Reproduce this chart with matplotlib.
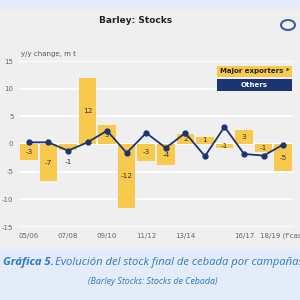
import matplotlib.pyplot as plt
from matplotlib.patches import Rectangle, Ellipse

# data
seasons = ["05/06", "06/07", "07/08", "08/09", "09/10", "10/11", "11/12",
           "12/13", "13/14", "14/15", "15/16", "16/17", "17/18", "18/19 (f'cast)"]
tick_labels = ["05/06", "", "07/08", "", "09/10", "", "11/12",
               "", "13/14", "", "", "16/17", "", "18/19 (f'cast)"]
major_exporters = [-2.9, -6.7, -1.0, 12.0, 3.4, -11.6, -3.0, -3.8, 1.8, 1.3, -0.8, 2.5, -1.4, -4.9]
bar_labels = ["-3", "-7", "-1", "12", "3", "-12", "-3", "-4", "2", "1", "-1", "3", "-1", "-5"]
others = [0.3, 0.3, -1.2, 0.3, 2.4, -1.6, 2.0, -0.7, 2.0, -2.2, 3.1, -1.8, -2.1, -0.1]
y_ticks = [-15, -10, -5, 0, 5, 10, 15]

YELLOW = "#f9c94e"
NAVY = "#1c3572"
BLUE_TXT = "#2a7cc7"
W, H = 300, 300

fig = plt.figure(figsize=(3, 3), dpi=100)
fig.patch.set_facecolor("#e3ecf8")

def px(x0, y0, x1, y1):
    # pixel box (top-left origin) -> figure fraction rect
    return [x0 / W, 1 - y1 / H, (x1 - x0) / W, (y1 - y0) / H]

# grey panel behind the chart
fig.patches.append(Rectangle((0, 1 - 249 / H), 1, 240 / H, transform=fig.transFigure,
                             facecolor="#efefef", edgecolor="none", zorder=-5))

ax = fig.add_axes(px(19, 61, 293, 227))
ax.set_zorder(1)
ax.set_facecolor("none")
x = list(range(len(seasons)))
ax.bar(x, major_exporters, width=0.9, color=YELLOW, zorder=2)
ax.plot(x, others, color=NAVY, lw=1.3, marker="o", ms=3.5, zorder=4)

for i, (v, lab) in enumerate(zip(major_exporters, bar_labels)):
    yy = v / 2
    if i == 2:
        # small bar: label sits under it
        yy = v - 2.2
    ax.text(i, yy, lab, ha="center", va="center", fontsize=5.3,
            color="#333333", zorder=3)

ax.set_xlim(-0.5, 13.5)
ax.set_ylim(-15, 15)
ax.set_yticks(y_ticks)
ax.set_yticklabels([str(t) for t in y_ticks], fontsize=5, color="#666666")
ax.set_xticks(x)
ax.set_xticklabels(tick_labels, fontsize=5, color="#666666")
ax.tick_params(length=0, pad=4)
ax.tick_params(axis="y", pad=4)
ax.grid(axis="y", color="white", lw=1.2, zorder=1)
for s in ax.spines.values():
    s.set_visible(False)

# titles
fig.text(136 / W, 1 - 20.5 / H, "Barley: Stocks", ha="center", va="center",
         fontsize=6.5, fontweight="bold", color="#222222")
fig.text(21 / W, 1 - 54 / H, "y/y change, m t", ha="left", va="center",
         fontsize=5, color="#555555")

# legend boxes
for (y0, y1, label, fc, tc) in [(66, 77, "Major exporters *", YELLOW, "#222222"),
                                (79, 91, "Others", NAVY, "white")]:
    fig.patches.append(Rectangle((217 / W, 1 - y1 / H), 75 / W, (y1 - y0) / H,
                                 transform=fig.transFigure, facecolor=fc,
                                 edgecolor="none", zorder=5))
    fig.text(254.5 / W, 1 - (y0 + y1) / 2 / H, label, ha="center", va="center",
             fontsize=5, fontweight="bold", color=tc, zorder=6)

# rough IGC logo
fig.patches.append(Ellipse((288 / W, 1 - 25 / H), 14 / W, 10 / H, transform=fig.transFigure,
                           facecolor="none", edgecolor="#3a5fa0", lw=1.5, zorder=5))

# caption
fig.text(3 / W, 1 - 263 / H, "Gráfica 5.", ha="left", va="center", fontsize=8.1,
         fontweight="bold", style="italic", color=BLUE_TXT, family="Open Sans")
fig.text(55 / W, 1 - 263 / H, "Evolución del stock final de cebada por campañas",
         ha="left", va="center", fontsize=8.1, style="italic", color=BLUE_TXT,
         family="Open Sans")
fig.text(153 / W, 1 - 281 / H, "(Barley Stocks: Stocks de Cebada)", ha="center",
         va="center", fontsize=6.4, style="italic", color=BLUE_TXT, family="Open Sans")

fig.savefig("out.png", dpi=100, facecolor=fig.get_facecolor())
